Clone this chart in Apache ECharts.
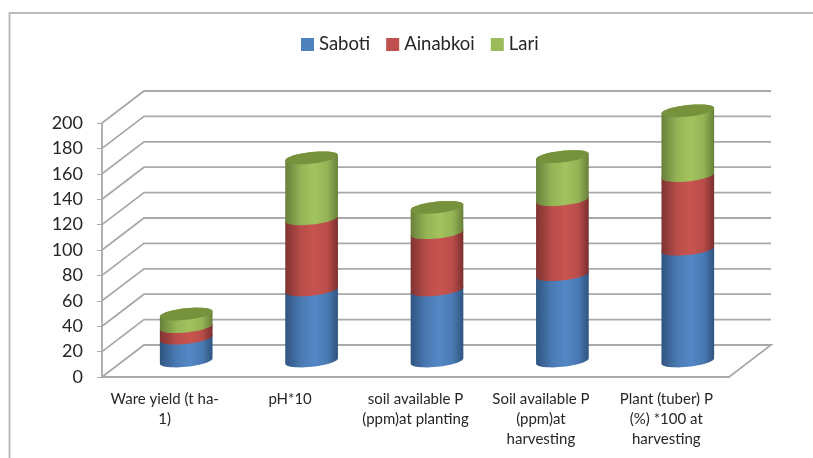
<!DOCTYPE html>
<html>
<head>
<meta charset="utf-8">
<style>
html, body { margin: 0; padding: 0; background: #fff; }
#chart { width: 813px; height: 458px; }
</style>
<script src="https://cdn.jsdelivr.net/npm/echarts@6/dist/echarts.min.js"></script>
</head>
<body>
<div id="chart"></div>
<script>
var categories = ['Ware yield (t ha-\n1)', 'pH*10', 'soil available P\n(ppm)at planting', 'Soil available P\n(ppm)at\nharvesting', 'Plant (tuber) P\n(%) *100 at\nharvesting'];
var saboti = [18, 56, 56, 68, 88];
var ainabkoi = [9, 56, 45, 59, 58];
var lari = [10, 48, 20, 34, 51];
var yTicks = [0, 20, 40, 60, 80, 100, 120, 140, 160, 180, 200];

var DEPTH_X = 42, DEPTH_Y = -32;
var GRID_COLOR = '#a9a9a9';
var FONT = 'Lato, sans-serif';
var TEXT_COLOR = '#262626';

// 3d wall: side line going back from the y axis, then along the back
function renderWall(params, api) {
	var box = params.coordSys;
	var y = api.coord([0, api.value(1)])[1];
	var x0 = box.x, x1 = box.x + box.width;
	var pts = [[x0, y], [x0 + DEPTH_X, y + DEPTH_Y], [x1 + DEPTH_X, y + DEPTH_Y]];
	if (api.value(1) === 0) {
		pts.push([x1, y]);
	}
	return {
		type: 'polyline',
		shape: { points: pts },
		style: { fill: null, stroke: GRID_COLOR, lineWidth: 1.8 }
	};
}

function ellipsePoint(col, cy, t) {
	return [col.x + col.rx * Math.cos(t), cy + 5.8 * Math.sin(t) - 2.7 * Math.cos(t)];
}

function makeRender(stops, capColor) {
	return function (params, api) {
		var band = api.size([1, 0])[0];
		var cat = api.value(0);
		var c0 = api.coord([cat, api.value(1)]);
		var c1 = api.coord([cat, api.value(2)]);
		var col = { x: c0[0] + DEPTH_X / 2 + 0.5, rx: band * 0.21 };
		var bottom = c0[1] + DEPTH_Y / 2;
		var top = c1[1] + DEPTH_Y / 2;
		var pts = [], i;
		for (i = 0; i <= 24; i++) {
			pts.push(ellipsePoint(col, top, Math.PI + Math.PI * i / 24));
		}
		for (i = 0; i <= 24; i++) {
			pts.push(ellipsePoint(col, bottom, Math.PI * i / 24));
		}
		var children = [{
			type: 'polygon',
			shape: { points: pts },
			style: {
				fill: { type: 'linear', x: 0, y: 0, x2: 1, y2: 0, colorStops: stops }
			}
		}];
		if (capColor) {
			var cap = [];
			for (i = 0; i < 48; i++) {
				cap.push(ellipsePoint(col, top, Math.PI * 2 * i / 48));
			}
			children.push({ type: 'polygon', shape: { points: cap }, style: { fill: capColor } });
		}
		return { type: 'group', children: children };
	};
}

function stops(edgeL, main, light, edgeR) {
	return [
		{ offset: 0, color: edgeL },
		{ offset: 0.3, color: main },
		{ offset: 0.55, color: light },
		{ offset: 0.8, color: main },
		{ offset: 1, color: edgeR }
	];
}

function stacked(values, below) {
	return values.map(function (v, i) {
		var start = 0;
		below.forEach(function (b) { start += b[i]; });
		return [i, start, start + v];
	});
}

var chart = echarts.init(document.getElementById('chart'), null, { renderer: 'canvas' });
chart.setOption({
	animation: false,
	color: ['#4f81bd', '#c0504d', '#9bbb59'],
	graphic: [{
		type: 'polyline',
		silent: true,
		shape: { points: [[9.5, 458], [9.5, 13], [813, 13]] },
		style: { fill: null, stroke: '#bbbbbb', lineWidth: 2 }
	}],
	legend: {
		data: ['Saboti', 'Ainabkoi', 'Lari'],
		left: 296,
		top: 30,
		icon: 'rect',
		itemWidth: 13,
		itemHeight: 13,
		itemGap: 16,
		textStyle: { fontFamily: FONT, fontSize: 18.5, color: TEXT_COLOR }
	},
	grid: { left: 102, right: 84, top: 123, bottom: 81 },
	xAxis: {
		type: 'category',
		data: categories,
		axisLine: { lineStyle: { color: GRID_COLOR, width: 1.8 } },
		axisTick: { length: 4, lineStyle: { color: GRID_COLOR } },
		axisLabel: { interval: 0, margin: 12, fontFamily: FONT, fontSize: 15, color: TEXT_COLOR, lineHeight: 20 }
	},
	yAxis: {
		type: 'value',
		min: 0,
		max: 200,
		interval: 20,
		splitLine: { show: false },
		axisLine: { show: true, lineStyle: { color: GRID_COLOR, width: 1.8 } },
		axisTick: { show: true, length: 5, lineStyle: { color: GRID_COLOR } },
		axisLabel: { margin: 19, fontFamily: FONT, fontSize: 18, color: TEXT_COLOR }
	},
	series: [{
		type: 'custom',
		name: 'walls',
		silent: true,
		clip: false,
		z: 1,
		encode: { x: 0, y: 1 },
		data: yTicks.map(function (t) { return [0, t]; }),
		renderItem: renderWall
	}, {
		type: 'custom',
		name: 'Saboti',
		clip: false,
		z: 2,
		itemStyle: { color: '#4f81bd' },
		encode: { x: 0, y: [1, 2] },
		data: stacked(saboti, []),
		renderItem: makeRender(stops('#2f5480', '#4a7ab3', '#5487c6', '#2f5480'))
	}, {
		type: 'custom',
		name: 'Ainabkoi',
		clip: false,
		z: 3,
		itemStyle: { color: '#c0504d' },
		encode: { x: 0, y: [1, 2] },
		data: stacked(ainabkoi, [saboti]),
		renderItem: makeRender(stops('#7f3331', '#b94d4a', '#c8544f', '#7a2f2d'))
	}, {
		type: 'custom',
		name: 'Lari',
		clip: false,
		z: 4,
		itemStyle: { color: '#9bbb59' },
		encode: { x: 0, y: [1, 2] },
		data: stacked(lari, [saboti, ainabkoi]),
		renderItem: makeRender(stops('#67803a', '#94b456', '#a2c35d', '#67803a'), '#76923c')
	}]
});
</script>
</body>
</html>
